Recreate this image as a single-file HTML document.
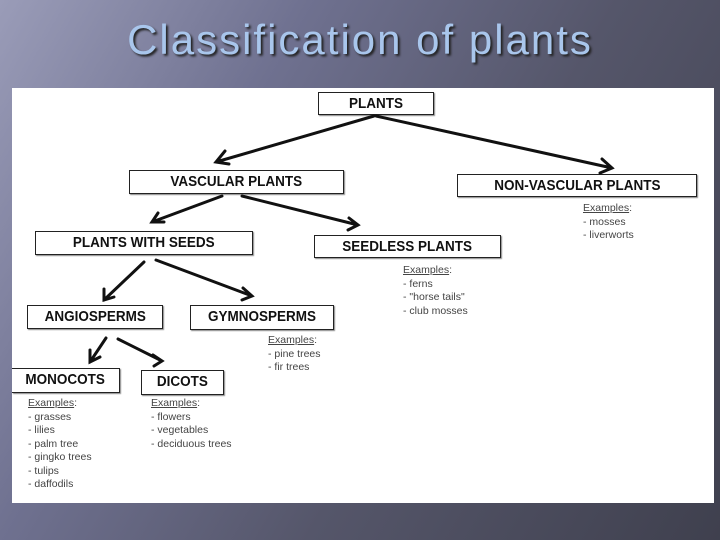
<!DOCTYPE html>
<html><head><meta charset="utf-8"><style>
body{margin:0;width:720px;height:540px;overflow:hidden;background:linear-gradient(120deg,#9a9cb8 0%,#6f7190 30%,#55566a 60%,#3f404e 100%);font-family:"Liberation Sans",sans-serif;position:relative}
.t{position:absolute;left:0;width:720px;top:16px;text-align:center;font-size:42px;color:#a9c6ec;text-shadow:2px 2px 2px #222;letter-spacing:2px}
.w{position:absolute;left:12px;top:88px;width:702px;height:415px;background:#fff}
.b{position:absolute;border:1.5px solid #222;box-shadow:1px 1px 1px #888;font-weight:bold;font-size:15px;color:#111;text-align:center;box-sizing:border-box;line-height:21px;white-space:nowrap}
.b span{display:inline-block;transform:scaleX(.9)}
.e{position:absolute;font-size:10.5px;color:#444;line-height:13.5px;white-space:pre}
.e u{text-decoration:underline}
svg{position:absolute;left:0;top:0}
</style></head><body>
<div class="t">Classification of plants</div>
<div class="w"></div>
<div class="b" style="left:318px;top:92px;width:116px;height:23px"><span>PLANTS</span></div>
<div class="b" style="left:129px;top:170px;width:215px;height:24px"><span>VASCULAR PLANTS</span></div>
<div class="b" style="left:457px;top:174px;width:240px;height:23px"><span>NON-VASCULAR PLANTS</span></div>
<div class="b" style="left:35px;top:231px;width:218px;height:24px"><span>PLANTS WITH SEEDS</span></div>
<div class="b" style="left:314px;top:235px;width:187px;height:23px"><span>SEEDLESS PLANTS</span></div>
<div class="b" style="left:27px;top:305px;width:136px;height:24px"><span>ANGIOSPERMS</span></div>
<div class="b" style="left:190px;top:305px;width:144px;height:25px"><span>GYMNOSPERMS</span></div>
<div class="b" style="left:12px;top:368px;width:108px;height:25px;border-left:none"><span>MONOCOTS</span></div>
<div class="b" style="left:141px;top:370px;width:83px;height:25px"><span>DICOTS</span></div>
<div class="e" style="left:583px;top:202px"><u>Examples</u>:
- mosses
- liverworts</div>
<div class="e" style="left:403px;top:264px"><u>Examples</u>:
- ferns
- "horse tails"
- club mosses</div>
<div class="e" style="left:268px;top:334px"><u>Examples</u>:
- pine trees
- fir trees</div>
<div class="e" style="left:28px;top:397px"><u>Examples</u>:
- grasses
- lilies
- palm tree
- gingko trees
- tulips
- daffodils</div>
<div class="e" style="left:151px;top:397px"><u>Examples</u>:
- flowers
- vegetables
- deciduous trees</div>
<svg width="720" height="540" fill="none" stroke="#111" stroke-width="3" stroke-linecap="round">
<path d="M374 116 L216 162 M225 151 L216 162 L229 164"/>
<path d="M376 116 L612 168 M602 159 L612 168 L600 173"/>
<path d="M222 196 L152 222 M158 213 L152 222 L164 222"/>
<path d="M242 196 L358 225 M349 218 L358 225 L348 230"/>
<path d="M144 262 L104 300 M104 289 L104 300 L114 297"/>
<path d="M156 260 L252 296 M243 288 L252 296 L242 300"/>
<path d="M106 338 L90 362 M90 350 L90 362 L100 357"/>
<path d="M118 339 L162 361 M153 355 L162 361 L154 366"/>
</svg>
</body></html>
